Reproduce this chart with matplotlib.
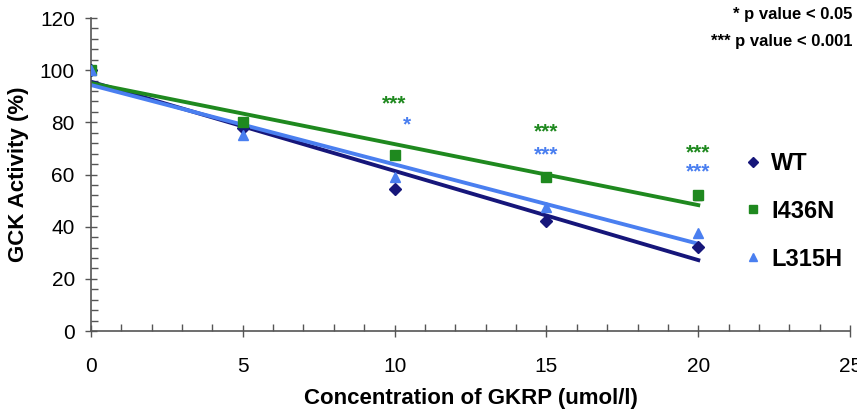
import numpy as np
import matplotlib
matplotlib.use("Agg")
import matplotlib.pyplot as plt
from matplotlib.ticker import MultipleLocator

# GCK activity vs GKRP concentration
conc = [0, 5, 10, 15, 20]
wt = [100, 77.8, 54.6, 42.2, 32.3]
i436n = [100, 80.0, 67.3, 59.0, 52.0]
i436n_err = [0, 0, 0, 0, 1.8]
l315h = [100, 75.0, 59.2, 47.6, 37.6]

# significance marks (x, y, text) per mutant
sig_i436n = [(10, 88.5, "***"), (15, 77.8, "***"), (20, 69.8, "***")]
sig_l315h = [(10.4, 80.5, "*"), (15, 69.0, "***"), (20, 62.5, "***")]

c_wt = "#16167a"
c_i436n = "#1f891f"
c_l315h = "#4a7ff0"

plt.rcParams['font.family'] = ['Liberation Sans', 'DejaVu Sans']

fig = plt.figure(figsize=(8.57, 4.15), dpi=100)
ax = fig.add_axes([0.106, 0.2024, 0.886, 0.7542])

x = np.array(conc)
for ys, col in [(wt, c_wt), (i436n, c_i436n), (l315h, c_l315h)]:
    k, b = np.polyfit(x, ys, 1)
    ax.plot([0, 20], [b, b + k * 20], color=col, lw=2.8, zorder=2)

ax.errorbar(conc, i436n, yerr=i436n_err, fmt="none", ecolor="#333333",
            elinewidth=1, capsize=3, zorder=3)
ax.plot(conc, wt, "D", color=c_wt, ms=6, ls="none", label="WT", zorder=4)
ax.plot(conc, i436n, "s", color=c_i436n, ms=7.5, ls="none", label="I436N", zorder=4)
ax.plot(conc, l315h, "^", color=c_l315h, ms=7.5, ls="none", label="L315H", zorder=4)

# asterisk glyphs sit high in the text box, so nudge them down a little
for xs, ys, t in sig_i436n:
    ax.text(xs, ys - 1.5, t, color=c_i436n, fontsize=15, fontweight="bold",
            ha="center", va="center")
for xs, ys, t in sig_l315h:
    ax.text(xs, ys - 1.5, t, color=c_l315h, fontsize=15, fontweight="bold",
            ha="center", va="center")

ax.set_xlim(0, 25)
ax.set_ylim(0, 120)
ax.xaxis.set_major_locator(MultipleLocator(5))
ax.xaxis.set_minor_locator(MultipleLocator(1))
ax.yaxis.set_major_locator(MultipleLocator(20))
ax.yaxis.set_minor_locator(MultipleLocator(4))
ax.tick_params(which="major", direction="inout", length=9, width=1, color="#555555")
ax.tick_params(which="minor", direction="in", length=5, width=1, color="#555555")
ax.tick_params(axis="y", labelsize=15, pad=7)
ax.tick_params(axis="x", labelsize=15, pad=14)
ax.spines["top"].set_visible(False)
ax.spines["right"].set_visible(False)
for s in ["left", "bottom"]:
    ax.spines[s].set_color("#555555")
    ax.spines[s].set_linewidth(1.2)

ax.set_xlabel("Concentration of GKRP (umol/l)", fontsize=16, fontweight="bold",
              labelpad=9)
ax.set_ylabel("GCK Activity (%)", fontsize=16, fontweight="bold", labelpad=8)

ax.legend(loc="upper left", bbox_to_anchor=(0.835, 0.64), frameon=False,
          prop={"weight": "bold", "size": 17}, handlelength=0.6,
          handletextpad=0.45, labelspacing=1.05, markerscale=0.8)

fig.text(0.995, 0.965, "* p value < 0.05", ha="right", va="center",
         fontsize=12, fontweight="bold")
fig.text(0.995, 0.9, "*** p value < 0.001", ha="right", va="center",
         fontsize=12, fontweight="bold")

fig.savefig("out.png", dpi=100)
